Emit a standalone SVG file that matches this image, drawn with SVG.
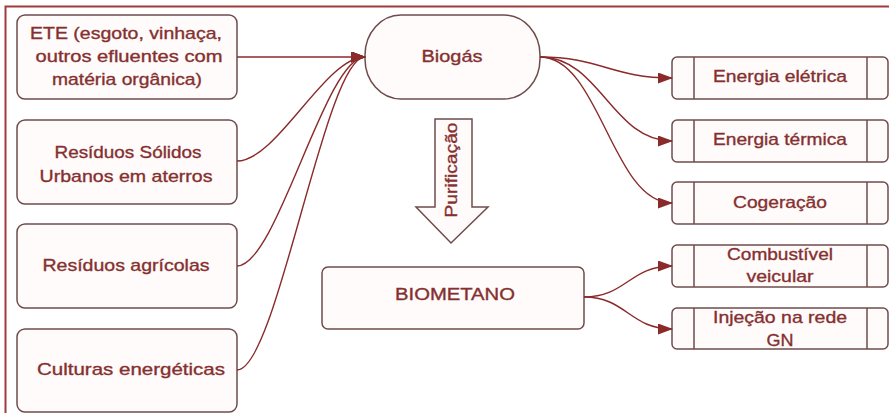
<svg xmlns="http://www.w3.org/2000/svg" width="889" height="413" viewBox="0 0 889 413">
<style>
.box{fill:#fffbfb;stroke:#6f4c4c;stroke-width:1.5}
.t{font-family:"Liberation Sans",Arial,sans-serif;font-size:17px;fill:#85302f;stroke:#85302f;stroke-width:0.35;text-anchor:middle}
.c{fill:none;stroke:#8a2a2a;stroke-width:1.4}
.frame{fill:none;stroke:#a23c3c;stroke-width:2}
</style>
<defs>
<marker id="ah" markerUnits="userSpaceOnUse" markerWidth="15" markerHeight="11" refX="14" refY="5.5" orient="auto">
<path d="M0,0 L15,5.5 L0,11 Z" fill="#8a2a2a"/>
</marker>
</defs>
<path class="frame" d="M5.5,413 L5.5,6.5 L889,6.5"/>
<g id="ete">
<rect class="box" x="17" y="15" width="220" height="84" rx="8"/>
<text class="t" x="126" y="39" textLength="192" lengthAdjust="spacingAndGlyphs">ETE (esgoto, vinhaça,</text>
<text class="t" x="129" y="62" textLength="187" lengthAdjust="spacingAndGlyphs">outros efluentes com</text>
<text class="t" x="127" y="85" textLength="150" lengthAdjust="spacingAndGlyphs">matéria orgânica)</text>
</g>
<g id="rsu">
<rect class="box" x="17" y="120" width="220" height="84" rx="8"/>
<text class="t" x="128" y="158" textLength="147" lengthAdjust="spacingAndGlyphs">Resíduos Sólidos</text>
<text class="t" x="126" y="182" textLength="173" lengthAdjust="spacingAndGlyphs">Urbanos em aterros</text>
</g>
<g id="agricolas">
<rect class="box" x="17" y="224" width="220" height="84" rx="8"/>
<text class="t" x="126" y="271" textLength="167" lengthAdjust="spacingAndGlyphs">Resíduos agrícolas</text>
</g>
<g id="culturas">
<rect class="box" x="17" y="329" width="220" height="83" rx="8"/>
<text class="t" x="131" y="375" textLength="188" lengthAdjust="spacingAndGlyphs">Culturas energéticas</text>
</g>
<g id="biogas">
<rect class="box" x="365" y="15" width="175" height="84" rx="36" ry="40"/>
<text class="t" x="452" y="62" textLength="61" lengthAdjust="spacingAndGlyphs">Biogás</text>
</g>
<g id="purificacao">
<path class="box" d="M435,119 L472,119 L472,207 L488,207 L451,243 L416,207 L435,207 Z"/>
<text class="t" transform="translate(457,170) rotate(-90)" x="0" y="0" textLength="95" lengthAdjust="spacingAndGlyphs">Purificação</text>
</g>
<g id="biometano">
<rect class="box" x="322" y="267" width="262" height="62" rx="6"/>
<text class="t" x="455" y="300" textLength="120" lengthAdjust="spacingAndGlyphs">BIOMETANO</text>
</g>
<g id="eletrica">
<rect class="box" x="672" y="57" width="216" height="42" rx="5"/>
<path class="box" d="M694,57 V99 M867,57 V99"/>
<text class="t" x="780" y="82" textLength="134" lengthAdjust="spacingAndGlyphs">Energia elétrica</text>
</g>
<g id="termica">
<rect class="box" x="672" y="120" width="216" height="42" rx="5"/>
<path class="box" d="M694,120 V162 M867,120 V162"/>
<text class="t" x="780" y="145" textLength="134" lengthAdjust="spacingAndGlyphs">Energia térmica</text>
</g>
<g id="cogeracao">
<rect class="box" x="672" y="182" width="216" height="42" rx="5"/>
<path class="box" d="M694,182 V224 M867,182 V224"/>
<text class="t" x="780" y="208" textLength="94" lengthAdjust="spacingAndGlyphs">Cogeração</text>
</g>
<g id="combustivel">
<rect class="box" x="672" y="245" width="216" height="42" rx="5"/>
<path class="box" d="M694,245 V287 M867,245 V287"/>
<text class="t" x="780" y="260" textLength="106" lengthAdjust="spacingAndGlyphs">Combustível</text>
<text class="t" x="780" y="282" textLength="67" lengthAdjust="spacingAndGlyphs">veicular</text>
</g>
<g id="injecao">
<rect class="box" x="672" y="308" width="216" height="41" rx="5"/>
<path class="box" d="M694,308 V349 M867,308 V349"/>
<text class="t" x="780" y="323" textLength="134" lengthAdjust="spacingAndGlyphs">Injeção na rede</text>
<text class="t" x="780" y="346" textLength="27" lengthAdjust="spacingAndGlyphs">GN</text>
</g>
<g id="connectors">
<path class="c" marker-end="url(#ah)" d="M237,57 L365,57"/>
<path class="c" marker-end="url(#ah)" d="M237,161 C277,161 325,57 365,57"/>
<path class="c" marker-end="url(#ah)" d="M237,266 C277,266 325,57 365,57"/>
<path class="c" marker-end="url(#ah)" d="M237,370 C277,370 325,57 365,57"/>
<path class="c" marker-end="url(#ah)" d="M540,57 C600,57 612,78 672,78"/>
<path class="c" marker-end="url(#ah)" d="M540,57 C600,57 612,141 672,141"/>
<path class="c" marker-end="url(#ah)" d="M540,57 C600,57 612,203 672,203"/>
<path class="c" marker-end="url(#ah)" d="M584,297 C626,297 630,266 672,266"/>
<path class="c" marker-end="url(#ah)" d="M584,297 C626,297 630,329 672,329"/>
</g>
</svg>
